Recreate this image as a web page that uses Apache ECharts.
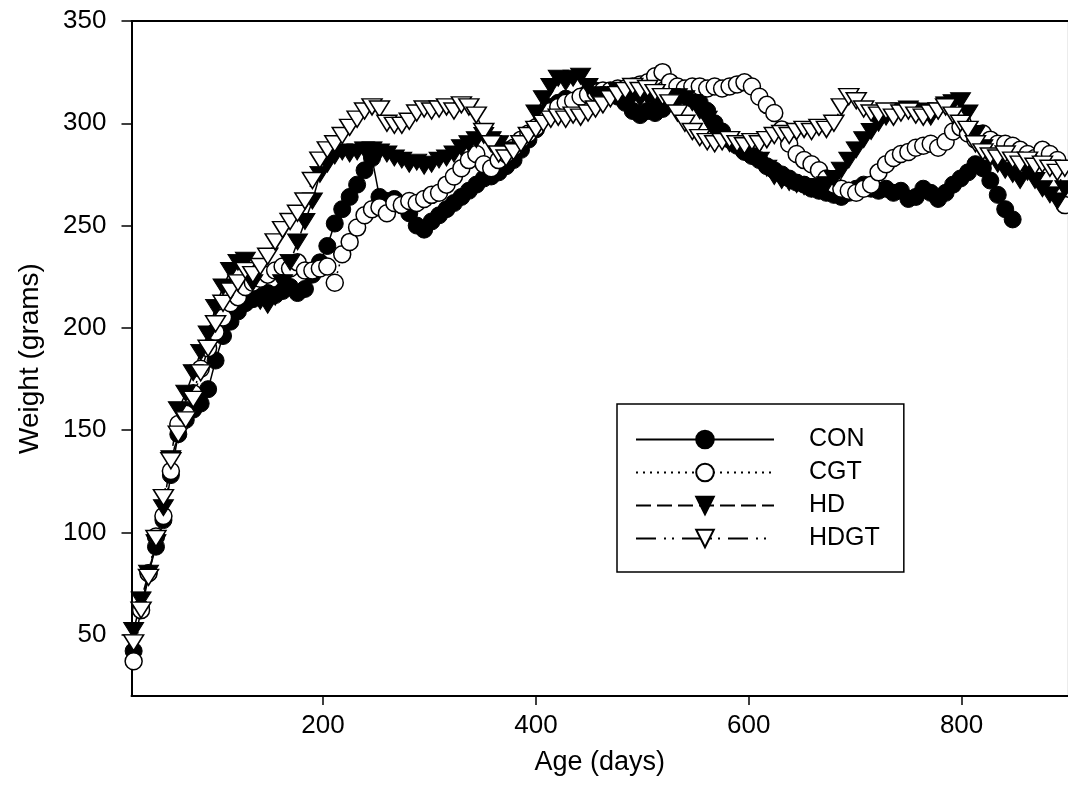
<!DOCTYPE html>
<html><head><meta charset="utf-8">
<script src="https://cdn.jsdelivr.net/npm/echarts@6/dist/echarts.min.js"></script>
<style>html,body{margin:0;padding:0;background:#fff}#c{width:1068px;height:808px}</style>
</head><body><div id="c"></div>
<script>
const days = [22,29,36,43,50,57,64,71,78,85,92,99,106,113,120,127,134,141,148,155,162,169,176,183,190,197,204,211,218,225,232,239,246,253,260,267,274,281,288,295,302,309,316,323,330,337,344,351,358,365,372,379,386,393,400,407,414,421,428,435,442,449,456,463,470,477,484,491,498,505,512,519,526,533,540,547,554,561,568,575,582,589,596,603,610,617,624,631,638,645,652,659,666,673,680,687,694,701,708,715,722,729,736,743,750,757,764,771,778,785,792,799,806,813,820,827,834,841,848,855,862,869,876,883,890,897];

const conWeight = [42,63,80,93,106,128,148,155,160,163,
170,184,196,203,208,212,214,215,217,216,
218,220,217,219,226,232,240,251,258,264,
270,277,283,264,262,263,260,256,250,248,
252,255,258,261,264,267,270,273,274,276,
279,282,287,292,297,303,308,310,312,311,
313,315,316,314,315,313,310,306,304,306,
305,307,310,313,314,312,310,306,300,296,
292,289,286,284,282,279,277,275,273,271,
270,268,267,266,265,264,266,268,270,268,
267,268,266,267,263,264,268,266,263,266,
270,273,276,280,278,272,265,258,253];

const cgtWeight = [37,62,80,98,108,130,153,158,168,180,
190,198,205,212,215,220,222,224,226,228,
230,229,232,228,228,229,230,222,236,242,
249,255,258,259,256,261,260,262,261,263,
265,266,270,274,278,282,285,280,278,282,
285,288,292,295,298,303,306,308,310,311,
313,314,315,316,316,317,317,318,319,320,
323,325,320,318,317,318,318,317,318,317,
318,319,320,318,313,309,305,297,290,285,
282,280,277,273,270,268,267,266,268,270,
276,280,283,285,286,288,289,290,288,291,
296,298,295,292,295,292,290,290,289,287,
285,283,287,285,282,260];

const hdWeight = [52,67,80,95,112,136,160,168,178,188,
197,210,220,228,232,233,222,213,211,215,
222,232,242,252,262,275,280,284,286,285,
286,287,287,286,285,283,282,280,281,279,
280,282,283,285,288,290,292,294,292,290,
287,286,290,294,305,312,318,322,320,322,
323,318,314,312,314,316,315,313,312,313,
310,312,313,313,312,310,306,302,296,292,
290,288,286,284,282,278,274,272,271,270,
269,268,269,270,273,277,282,287,292,296,
300,303,305,306,307,305,306,303,306,309,
310,311,305,295,288,283,280,277,275,272,
276,272,268,265,262,268];

const hdgtWeight = [46,62,78,97,117,135,148,155,165,178,
190,202,212,218,222,228,226,230,235,242,
248,252,256,262,272,282,287,290,294,298,
302,306,308,307,300,299,299,301,305,307,
306,307,308,306,309,308,304,296,290,285,
283,286,290,294,297,300,302,303,302,304,
303,305,307,309,312,314,316,318,316,317,
315,313,310,305,300,296,293,291,290,291,
292,290,289,291,290,292,294,295,294,296,
297,296,298,297,300,308,313,311,307,305,
304,306,303,305,306,304,303,305,306,308,
304,300,297,290,286,284,283,285,282,280,
282,279,280,278,276,278];

const seriesNames = ['CON', 'CGT', 'HD', 'HDGT'];
const xTicks = [200, 400, 600, 800];
const yTicks = [50, 100, 150, 200, 250, 300, 350];

function pairs(w) { return w.map((v, i) => [days[i], v]); }
const FONT = '"Liberation Sans", Arial, Helvetica, sans-serif';

const chart = echarts.init(document.getElementById('c'), null, { renderer: 'canvas' });
const common = { type: 'line', emphasis: { disabled: true }, color: '#000' };
chart.setOption({
  animation: false,
  backgroundColor: '#fff',
  grid: { left: 131.5, right: 0, top: 21, bottom: 112, show: true, borderColor: '#d9d9d9', borderWidth: 1 },
  xAxis: [{
    type: 'value', min: 20, max: 900, position: 'bottom',
    axisLine: { show: true, onZero: false, lineStyle: { color: '#000', width: 2 } },
    axisTick: { show: true, inside: false, length: 9, customValues: xTicks, lineStyle: { color: '#000', width: 1.5 } },
    axisLabel: { customValues: xTicks, color: '#000', fontSize: 26, fontFamily: FONT, margin: 17 },
    splitLine: { show: false },
    name: 'Age (days)', nameLocation: 'middle', nameGap: 53,
    nameTextStyle: { color: '#000', fontSize: 27, fontFamily: FONT }
  }, {
    type: 'value', min: 20, max: 900, position: 'top',
    axisLine: { show: true, onZero: false, lineStyle: { color: '#000', width: 2 } },
    axisTick: { show: false }, axisLabel: { show: false }, splitLine: { show: false }
  }],
  yAxis: {
    type: 'value', min: 20, max: 350,
    axisLine: { show: true, onZero: false, lineStyle: { color: '#000', width: 2 } },
    axisTick: { show: true, inside: false, length: 10, customValues: yTicks, lineStyle: { color: '#000', width: 1.5 } },
    axisLabel: { customValues: yTicks, color: '#000', fontSize: 26, fontFamily: FONT, margin: 25 },
    splitLine: { show: false },
    name: 'Weight (grams)', nameLocation: 'middle', nameGap: 87,
    nameTextStyle: { color: '#000', fontSize: 28, fontFamily: FONT }
  },
  legend: {
    orient: 'vertical', left: 617, top: 404,
    itemWidth: 138, itemHeight: 22, itemGap: 8,
    padding: [23, 24, 21, 18],
    borderColor: '#000', borderWidth: 1.5, backgroundColor: '#fff',
    selectedMode: false,
    textStyle: { color: '#000', fontSize: 25, fontFamily: FONT, padding: [0, 0, 0, 30] },
    data: seriesNames
  },
  series: [
    Object.assign({}, common, {
      name: 'CON', data: pairs(conWeight), symbol: 'circle', symbolSize: 17,
      lineStyle: { color: '#000', width: 1.5, type: 'solid' },
      itemStyle: { color: '#000', borderColor: '#000', borderWidth: 1 }
    }),
    Object.assign({}, common, {
      name: 'CGT', data: pairs(cgtWeight), symbol: 'circle', symbolSize: 17,
      lineStyle: { color: '#000', width: 1.5, type: [2, 5] },
      itemStyle: { color: '#fff', borderColor: '#000', borderWidth: 1.5 }
    }),
    Object.assign({}, common, {
      name: 'HD', data: pairs(hdWeight), symbol: 'triangle', symbolRotate: 180, symbolSize: [20, 16],
      lineStyle: { color: '#000', width: 1.5, type: [15, 6] },
      itemStyle: { color: '#000', borderColor: '#000', borderWidth: 1 }
    }),
    Object.assign({}, common, {
      name: 'HDGT', data: pairs(hdgtWeight), symbol: 'triangle', symbolRotate: 180, symbolSize: [20, 16],
      lineStyle: { color: '#000', width: 1.5, type: [20, 8, 2, 6, 2, 8] },
      itemStyle: { color: '#fff', borderColor: '#000', borderWidth: 1.5 }
    })
  ]
});
</script>
</body></html>
